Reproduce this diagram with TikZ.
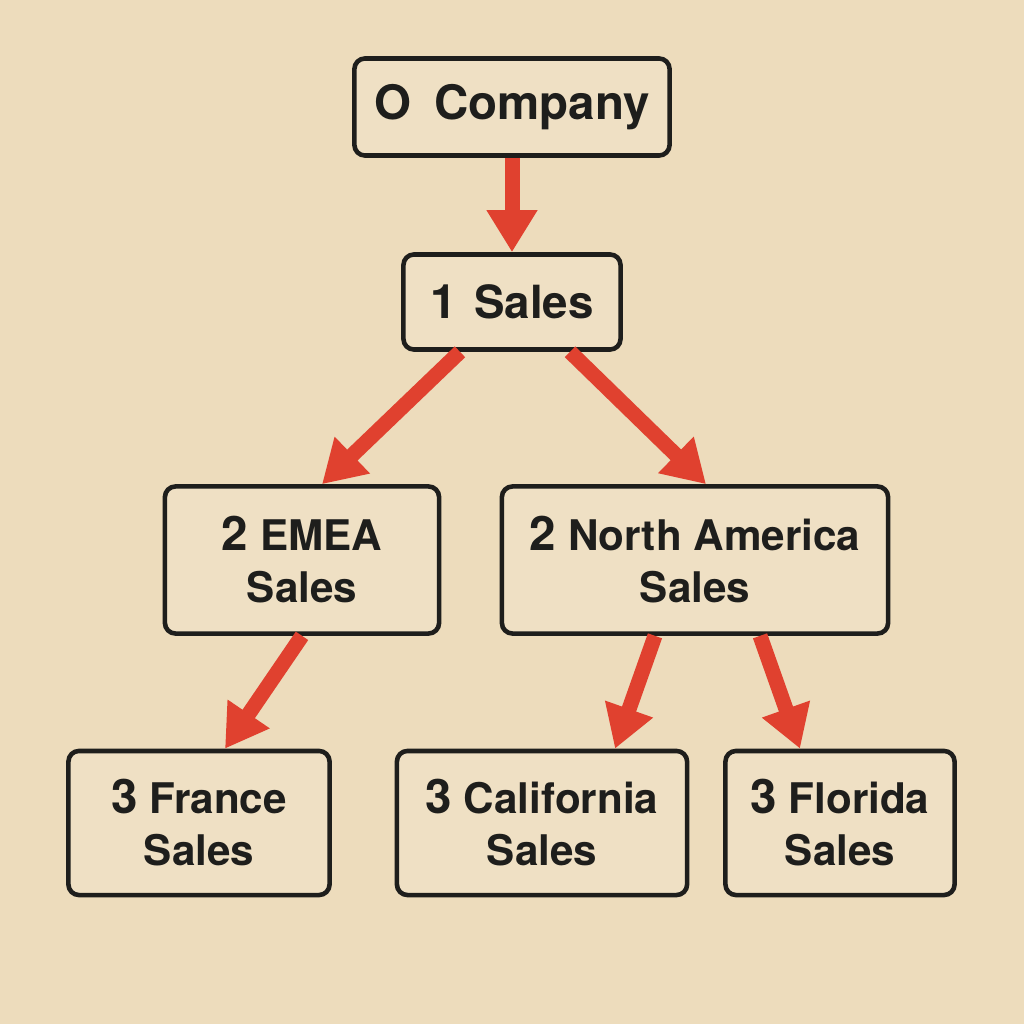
\documentclass[tikz,border=0pt]{standalone}
\usepackage{fontspec}
\setmainfont{TeX Gyre Heros}
\usetikzlibrary{arrows.meta}
\definecolor{paper}{HTML}{EDDCBC}
\definecolor{boxfill}{HTML}{EFE0C4}
\definecolor{inkline}{HTML}{1E1E1C}
\definecolor{arrowred}{HTML}{E0412F}
\newcommand{\levelno}[1]{{\fontsize{13.5}{16}\selectfont #1}\ }
\begin{document}
\begin{tikzpicture}[x=0.01cm,y=-0.01cm,
 unit/.style={draw=inkline,text=inkline,line width=1.3pt,rounded corners=3pt,fill=boxfill,inner sep=0pt,align=center,font=\bfseries\fontsize{12}{14.8}\selectfont},
 flow/.style={draw=arrowred,line width=0.15cm,-{Triangle[width=0.48cm,length=0.42cm]}}]
 \fill[paper](0,0) rectangle (1024,1024);
 \useasboundingbox (0,0) rectangle (1024,1024);
 % boxes
 \node[unit,minimum width=3.15cm,minimum height=0.97cm,font=\bfseries\fontsize{13.5}{16}\selectfont] (co) at (512,107) {O\hspace{0.1cm} Company};
 \node[unit,minimum width=2.17cm,minimum height=0.95cm,font=\bfseries\fontsize{13}{16}\selectfont] (sa) at (512,302) {\levelno{1}\hspace{0.05cm}Sales};
 \node[unit,minimum width=2.74cm,minimum height=1.47cm] (em) at (302,560) {\levelno{2}EMEA\\Sales};
 \node[unit,minimum width=3.86cm,minimum height=1.47cm] (na) at (695,560) {\levelno{2}North America\\Sales};
 \node[unit,minimum width=2.61cm,minimum height=1.44cm] (fr) at (199,823) {\levelno{3}France\\Sales};
 \node[unit,minimum width=2.90cm,minimum height=1.44cm] (ca) at (542,823) {\levelno{3}California\\Sales};
 \node[unit,minimum width=2.29cm,minimum height=1.44cm] (fl) at (840,823) {\levelno{3}Florida\\Sales};
 % arrows
 \draw[flow](co.south)--(sa.north);
 \draw[flow]([xshift=-0.52cm]sa.south)--([xshift=0.2cm]em.north);
 \draw[flow]([xshift=0.58cm]sa.south)--([xshift=0.11cm]na.north);
 \draw[flow](em.south)--([xshift=0.26cm]fr.north);
 \draw[flow]([xshift=-0.4cm]na.south)--([xshift=0.73cm]ca.north);
 \draw[flow]([xshift=0.65cm]na.south)--([xshift=-0.4cm]fl.north);
\end{tikzpicture}
\end{document}
